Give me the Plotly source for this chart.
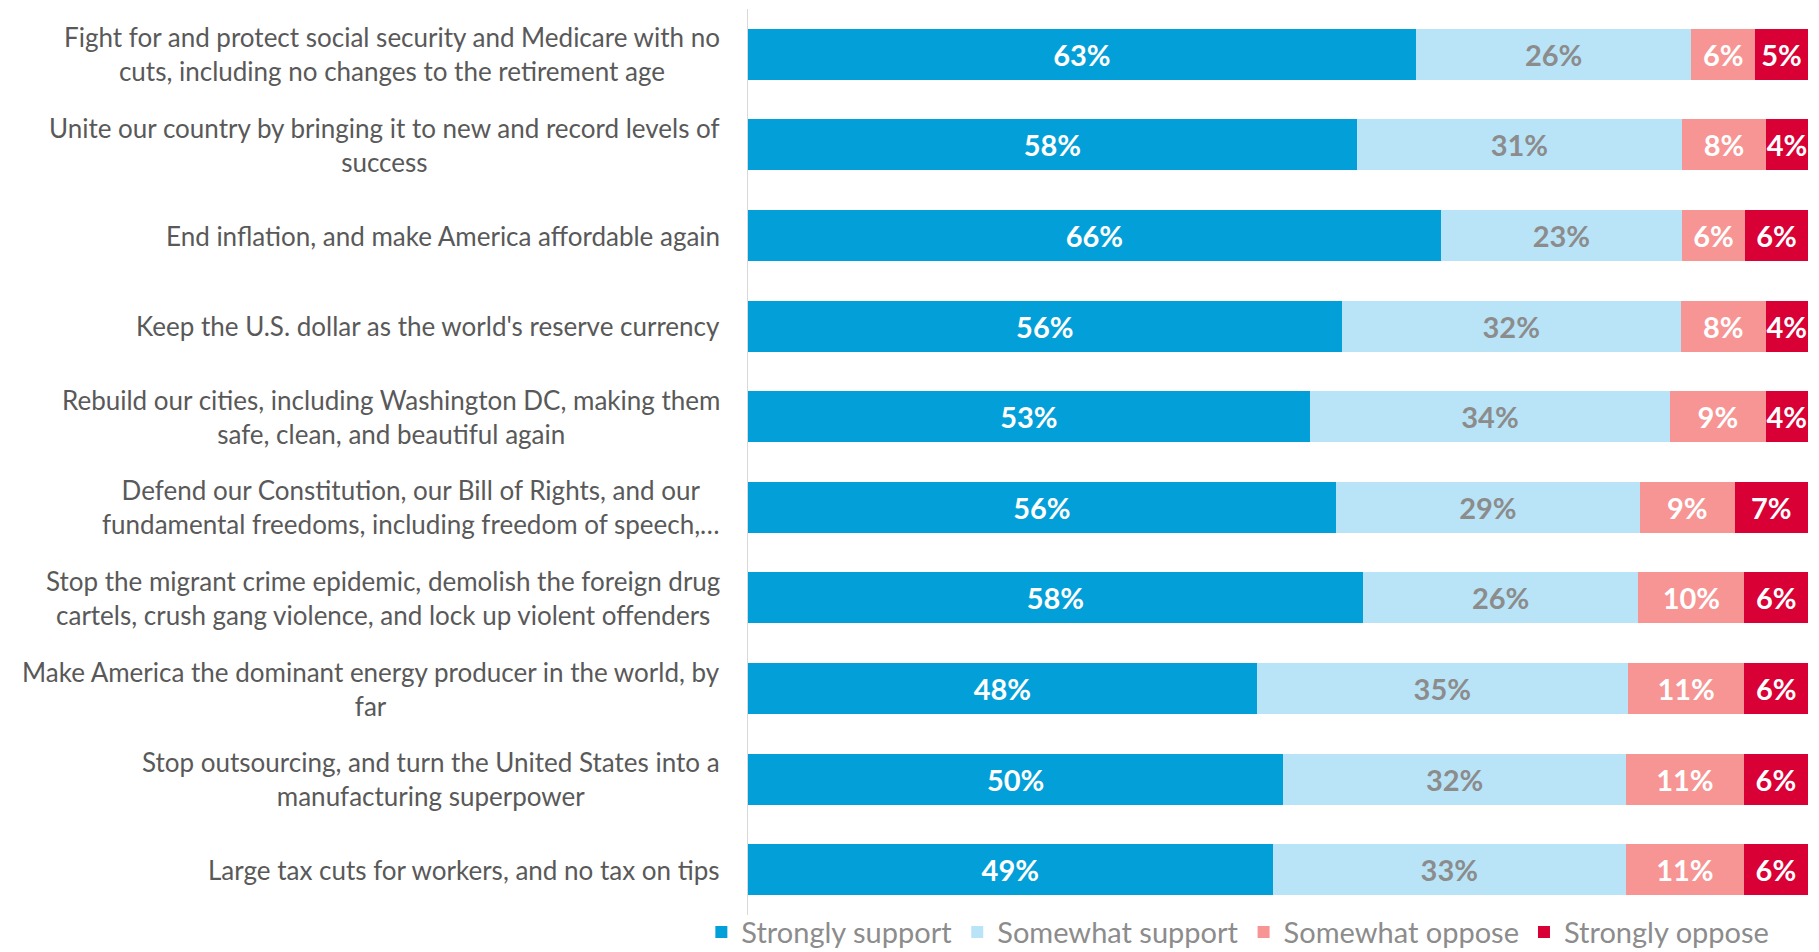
import plotly.graph_objects as go

# Survey items (top to bottom) and the share of responses in each category
items = [
    "Fight for and protect social security and Medicare with no<br>cuts, including no changes to the retirement age",
    "Unite our country by bringing it to new and record levels of<br>success",
    "End inflation, and make America affordable again",
    "Keep the U.S. dollar as the world's reserve currency",
    "Rebuild our cities, including Washington DC, making them<br>safe, clean, and beautiful again",
    "Defend our Constitution, our Bill of Rights, and our<br>fundamental freedoms, including freedom of speech,…",
    "Stop the migrant crime epidemic, demolish the foreign drug<br>cartels, crush gang violence, and lock up violent offenders",
    "Make America the dominant energy producer in the world, by<br>far",
    "Stop outsourcing, and turn the United States into a<br>manufacturing superpower",
    "Large tax cuts for workers, and no tax on tips",
]

strongly_support = [63, 58, 66, 56, 53, 56, 58, 48, 50, 49]
somewhat_support = [26, 31, 23, 32, 34, 29, 26, 35, 32, 33]
somewhat_oppose = [6, 8, 6, 8, 9, 9, 10, 11, 11, 11]
strongly_oppose = [5, 4, 6, 4, 4, 7, 6, 6, 6, 6]

series = [
    ("Strongly support", strongly_support, "#039FD9", "#FFFFFF"),
    ("Somewhat support", somewhat_support, "#B9E4F8", "#8C8C8C"),
    ("Somewhat oppose", somewhat_oppose, "#F69593", "#FFFFFF"),
    ("Strongly oppose", strongly_oppose, "#D80034", "#FFFFFF"),
]

FONT = "Lato"

fig = go.Figure()
for name, vals, color, txtcolor in series:
    fig.add_trace(go.Bar(
        y=items,
        x=vals,
        name=name,
        orientation="h",
        marker=dict(color=color, line=dict(width=0)),
        text=[f"{v}%" for v in vals],
        textposition="inside",
        insidetextanchor="middle",
        textangle=0,
        constraintext="none",
        textfont=dict(family=FONT, size=29, color=txtcolor, weight="bold"),
        hoverinfo="skip",
    ))

# Category labels: centred multi-line blocks, right-aligned to the axis
for label in items:
    fig.add_annotation(
        x=0, xref="paper", xanchor="right", xshift=-26,
        y=label, yref="y", yanchor="middle",
        text=label, align="center", showarrow=False,
        font=dict(family=FONT, size=26, color="#595959"),
    )

fig.update_layout(
    barmode="stack",
    barnorm="percent",
    bargap=0.437,
    width=1819, height=952,
    margin=dict(l=748, r=11, t=9, b=37, autoexpand=False),
    paper_bgcolor="white",
    plot_bgcolor="white",
    showlegend=True,
    legend=dict(
        orientation="h",
        x=-0.044, xanchor="left",
        y=-0.019, yanchor="middle",
        font=dict(family=FONT, size=29, color="#8C8C8C"),
        itemsizing="constant",
        traceorder="normal",
        bgcolor="rgba(0,0,0,0)",
    ),
    font=dict(family=FONT),
)
fig.update_xaxes(range=[0, 100], visible=False, showgrid=False, zeroline=False, fixedrange=True)
fig.update_yaxes(
    autorange="reversed", showticklabels=False, showgrid=False, zeroline=False,
    showline=True, linecolor="#D9D9D9", linewidth=1, ticks="",
)

fig.write_html("out.html")
